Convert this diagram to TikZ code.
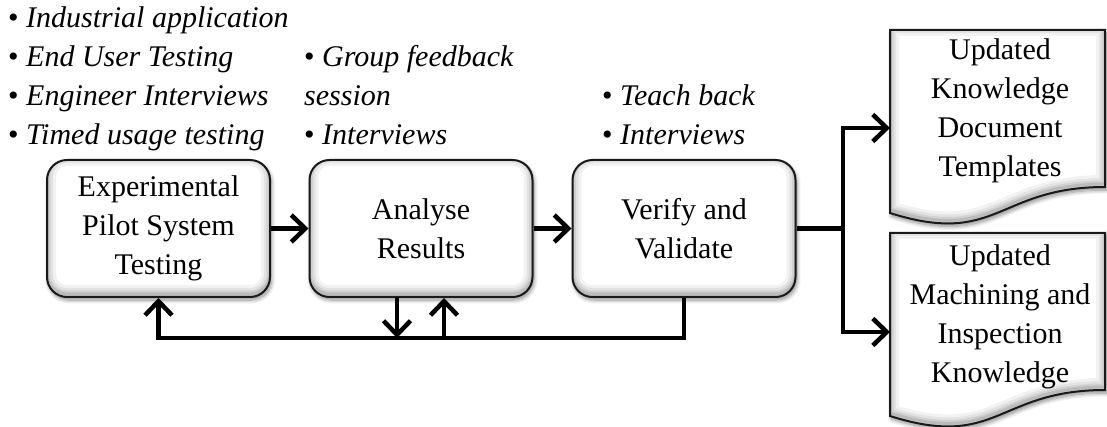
\documentclass[tikz,border=0pt]{standalone}
\usepackage{fontspec}
\setmainfont{Liberation Serif}
\usetikzlibrary{arrows.meta,shadows.blur}

\newcommand\bigfont{\fontsize{30}{39}\selectfont}

% inner bevel: stacked translucent strokes, shifted up so the bottom edge is darker
\newcommand\innershade{%
  \foreach \w/\o in {18/0.05,12/0.06,7/0.08,3/0.10}
    \draw[line width=\w pt, black, opacity=\o, rounded corners=20pt]
      ([yshift=3pt]path picture bounding box.south west) rectangle
      ([yshift=3pt]path picture bounding box.north east);}

% flowchart "document" outline with a wavy bottom edge; #1 = top edge
\newcommand\docoutline[1]{(890,#1) -- (1105,#1) -- (1105,#1+157)
  .. controls (997.5,#1+157) and (997.5,#1+217) .. (890,#1+183) -- cycle}

\tikzset{
  flow/.style={line width=4.5pt, -{Straight Barb[length=14pt,width=27pt]}},
  wire/.style={line width=4.5pt},
  softshadow/.style={blur shadow={shadow xshift=1.5pt, shadow yshift=-3pt,
      shadow opacity=45, shadow blur steps=8, shadow blur radius=4pt}},
  procbox/.style={draw=black!90, line width=2pt, rounded corners=20pt, fill=white,
      minimum width=223pt, minimum height=137pt, inner sep=0pt, align=center,
      font=\bigfont, softshadow, path picture={\innershade}},
  doctext/.style={align=center, font=\bigfont, inner sep=0pt},
  note/.style={anchor=base west, inner sep=0pt, font=\bigfont\itshape},
}

\begin{document}
\begin{tikzpicture}[x=1pt, y=-1pt]
\useasboundingbox (0,0) rectangle (1107,427);

% process boxes
\node[procbox] (exp) at (158.5,228.5) {Experimental\\Pilot System\\Testing};
\node[procbox] (ana) at (421,228.5) {Analyse\\Results};
\node[procbox] (ver) at (684,228.5) {Verify and\\Validate};

% output documents
\foreach \top in {30,233}{
  \fill[white, softshadow] \docoutline{\top};
  \begin{scope}
    \clip \docoutline{\top};
    \foreach \w/\o in {18/0.05,12/0.06,7/0.08,3/0.10}
      \draw[line width=\w pt, black, opacity=\o, yshift=3pt] \docoutline{\top};
  \end{scope}
  \draw[black!90, line width=2pt] \docoutline{\top};
}
\node[doctext] (docA) at (1000,111) {Updated\\Knowledge\\Document\\Templates};
\node[doctext] (docB) at (1000,317) {Updated\\Machining and\\Inspection\\Knowledge};
\coordinate (docAin) at (890,128);
\coordinate (docBin) at (890,332);

% annotations
\node[note] (l1) at (8,28)  {{\upshape\textbullet}\ Industrial application};
\node[note] (l2) at (8,67)  {{\upshape\textbullet}\ End User Testing};
\node[note] (l3) at (8,106) {{\upshape\textbullet}\ Engineer Interviews};
\node[note] (l4) at (8,145) {{\upshape\textbullet}\ Timed usage testing};
\node[note] (m1) at (304,67)  {{\upshape\textbullet}\ Group feedback};
\node[note] (m2) at (304,106) {session};
\node[note] (m3) at (304,145) {{\upshape\textbullet}\ Interviews};
\node[note] (r1) at (602,106) {{\upshape\textbullet}\ Teach back};
\node[note] (r2) at (602,145) {{\upshape\textbullet}\ Interviews};

% forward flow
\draw[flow] (exp) -- (ana);
\draw[flow] (ana) -- (ver);
\coordinate (splitx) at (843,0);
\coordinate (split) at (ver.east -| splitx);
\draw[wire] (ver.east) -- (split);
\draw[flow] (split) |- (docAin);
\draw[flow] (split) |- (docBin);

% feedback loop
\coordinate (bus) at (0,338);
\draw[flow] (ver.south) -- (ver.south |- bus) -- (exp.south |- bus) -- (exp.south);
\draw[flow] ([xshift=-24pt]ana.south) -- ([xshift=-24pt]ana.south |- bus);
\draw[flow] ([xshift=23pt]ana.south |- bus) -- ([xshift=23pt]ana.south);
\end{tikzpicture}
\end{document}
